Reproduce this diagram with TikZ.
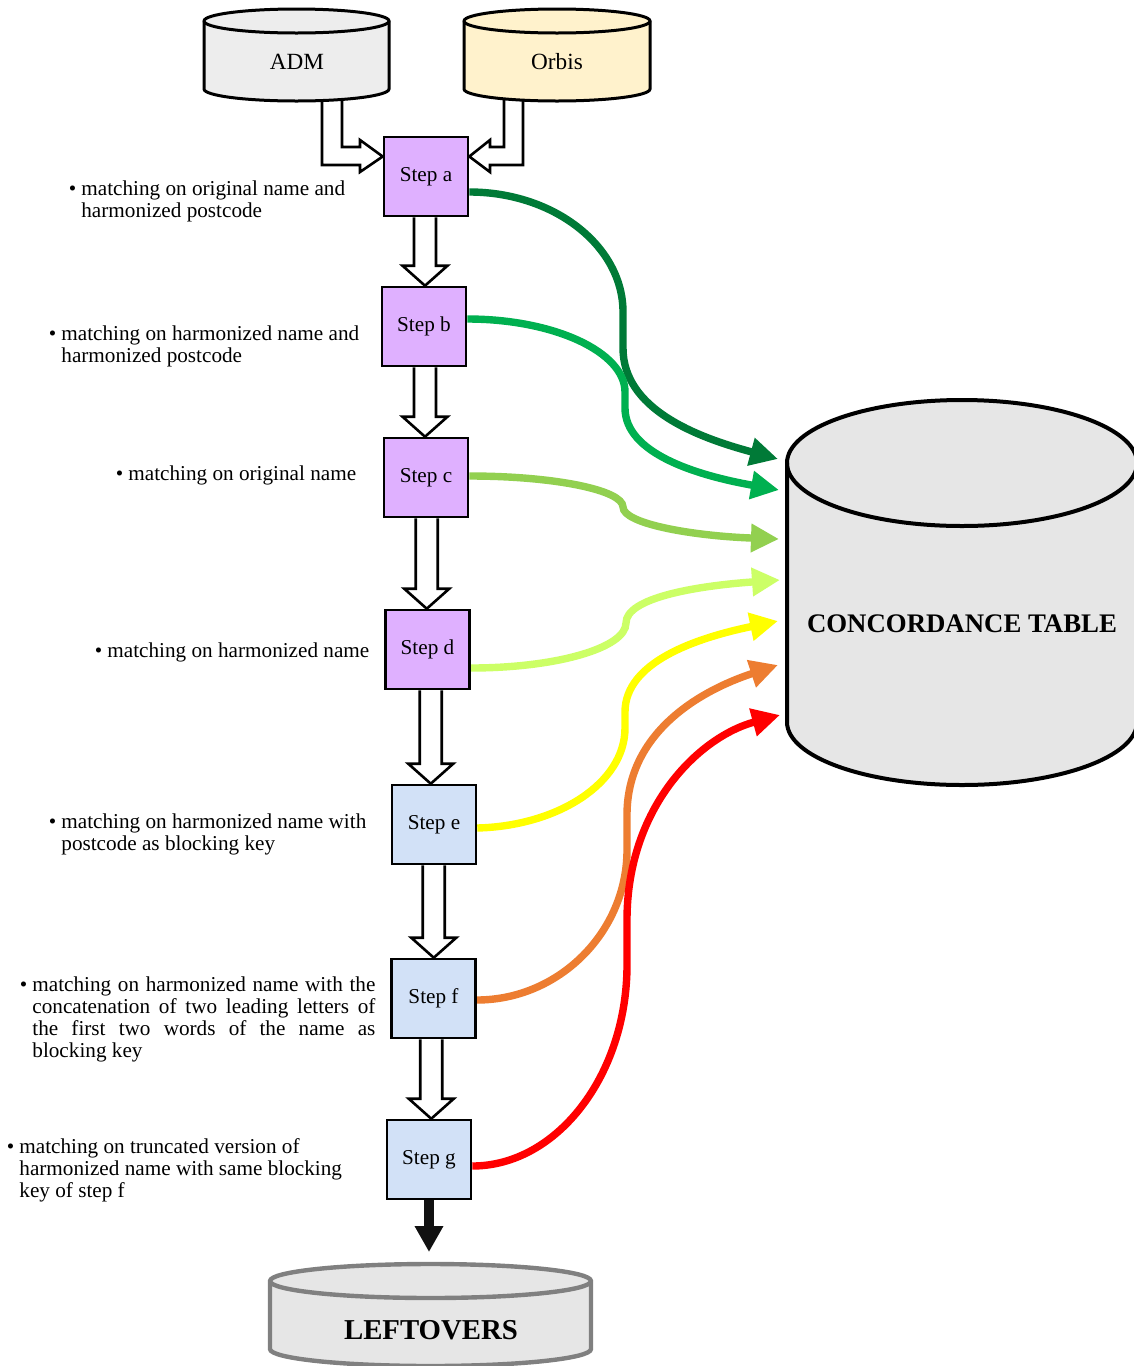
\documentclass[tikz,border=0pt]{standalone}
\usepackage{fontspec}
\setmainfont{Liberation Serif}
\usetikzlibrary{arrows.meta,calc,backgrounds}
\definecolor{stepP}{HTML}{DFB0FF}
\definecolor{stepB}{HTML}{D2E1F7}
\definecolor{admfill}{HTML}{EDEDED}
\definecolor{orbfill}{HTML}{FFF2CC}
\definecolor{cylfill}{HTML}{E6E6E6}
\definecolor{leftline}{HTML}{808080}
\definecolor{cA}{HTML}{007A37}
\definecolor{cB}{HTML}{00B050}
\definecolor{cC}{HTML}{92D050}
\definecolor{cD}{HTML}{CCFF66}
\definecolor{cE}{HTML}{FFFF00}
\definecolor{cF}{HTML}{ED7D31}
\definecolor{cG}{HTML}{FF0000}
\newcommand{\bul}{\llap{\textbullet\hspace{2.5pt}}}
\newcommand{\hollowdown}[2]{%
  \draw[hollow] let \p1=(#1.south), \p2=(#2.north), \p3=($(#1.south)!0.5!(#2.north)$) in
   (\x3-5.5pt,\y1) -- (\x3-5.5pt,\y2+10pt) -- (\x3-11.25pt,\y2+10pt) -- (\x3,\y2)
   -- (\x3+11.25pt,\y2+10pt) -- (\x3+5.5pt,\y2+10pt) -- (\x3+5.5pt,\y1);}
\begin{document}
\begin{tikzpicture}[x=0.5pt,y=-0.5pt,
  stepbox/.style={draw, line width=1.3pt, minimum width=42pt, minimum height=39.5pt, inner sep=0pt,
    font=\fontsize{10.6pt}{12pt}\selectfont},
  purplebox/.style={stepbox, fill=stepP},
  bluebox/.style={stepbox, fill=stepB},
  hollow/.style={draw=black, fill=white, line width=1.3pt, line join=miter},
  flow/.style={line width=3.7pt, -{Triangle[length=14pt,width=13.5pt]}},
  cyl/.style={line width=1.5pt, draw=black},
  desc/.style={font=\fontsize{10.6pt}{11pt}\selectfont, inner sep=0pt, anchor=base west},
  cyltext/.style={font=\fontsize{11.6pt}{13pt}\selectfont, inner sep=0pt},
  bigtext/.style={font=\fontsize{13.4pt}{15pt}\selectfont\bfseries, inner sep=0pt}
]
\useasboundingbox (0,0) rectangle (1134,1366);
\clip (0,0) rectangle (1134,1366);

% step boxes
\node[purplebox] (sa) at (426,176.5) {Step a};
\node[purplebox] (sb) at (424,326.5) {Step b};
\node[purplebox] (sc) at (426,477.5) {Step c};
\node[purplebox] (sd) at (427.5,649.5) {Step d};
\node[bluebox] (se) at (434,824.5) {Step e};
\node[bluebox] (sf) at (433.5,998.5) {Step f};
\node[bluebox] (sg) at (429,1159.5) {Step g};

% arrow tips at the concordance table
\coordinate (ct1) at (778,459);
\coordinate (ct2) at (779,490);
\coordinate (ct3) at (779,539);
\coordinate (ct4) at (780,580);
\coordinate (ct5) at (778,621);
\coordinate (ct6) at (778,665);
\coordinate (ct7) at (780,715);
\coordinate (lt) at (430,1252);

\begin{pgfonlayer}{background}
  \fill[white] (0,0) rectangle (1134,1366);
  % input arrows
  \draw[hollow] (322,94) -- (322,165) -- (360,165) -- (360,172) -- ($(sa.west)+(0,-20)$)
     -- (360,140) -- (360,147) -- (342,147) -- (342,94);
  \draw[hollow] (523,94) -- (523,165) -- (490,165) -- (490,172) -- ($(sa.east)+(0,-20)$)
     -- (490,140) -- (490,147) -- (504,147) -- (504,94);
  % step arrows
  \hollowdown{sa}{sb}
  \hollowdown{sb}{sc}
  \hollowdown{sc}{sd}
  \hollowdown{sd}{se}
  \hollowdown{se}{sf}
  \hollowdown{sf}{sg}
  % flows to the concordance table
  \draw[flow, cA] ($(sa.east)+(0,15.5)$) .. controls (554,192) and (623,246) .. (623,312)
     -- (623,348) .. controls (623,409) and (696,437) .. (ct1);
  \draw[flow, cB] ($(sb.east)+(0,-7.5)$) .. controls (554,319) and (625,352) .. (625,392)
     -- (625,408) .. controls (625,453) and (695,475) .. (ct2);
  \draw[flow, cC] ($(sc.east)+(0,-1.5)$) .. controls (554,476) and (623,490) .. (623,507)
     .. controls (623,524) and (694,536) .. (ct3);
  \draw[flow, cD] ($(sd.east)+(0,18.5)$) .. controls (556,668) and (626,648) .. (626,623)
     .. controls (626,598) and (695,586) .. (ct4);
  \draw[flow, cE] ($(se.east)+(0,3.5)$) .. controls (558,826) and (625,783) .. (625,728)
     -- (625,712) .. controls (625,662) and (696,638) .. (ct5);
  \draw[flow, cF] ($(sf.east)+(0,1.5)$) .. controls (559,1000) and (627,932) .. (627,850)
     -- (627,815) .. controls (627,733) and (699,691) .. (ct6);
  \draw[flow, cG] ($(sg.east)+(0,6.5)$) .. controls (557,1166) and (627,1075) .. (627,965)
     -- (627,920) .. controls (627,807) and (699,737) .. (ct7);
  % to leftovers
  \draw[line width=5pt, draw={rgb,255:red,17;green,17;blue,17}, -{Triangle[length=13pt,width=13.5pt]}]
     (sg.south) -- (sg.south |- lt);
\end{pgfonlayer}

% ADM cylinder
\filldraw[cyl, fill=admfill] (204,21) -- (204,89) arc[start angle=180,end angle=360,x radius=46.25pt,y radius=6pt]
   -- (389,21) arc[start angle=0,end angle=180,x radius=46.25pt,y radius=6pt] -- cycle;
\draw[cyl] (204,21) arc[start angle=180,end angle=360,x radius=46.25pt,y radius=6pt];
\node[cyltext] (adm) at (297,62) {ADM};

% Orbis cylinder
\filldraw[cyl, fill=orbfill] (464,21) -- (464,89) arc[start angle=180,end angle=360,x radius=46.5pt,y radius=6pt]
   -- (650,21) arc[start angle=0,end angle=180,x radius=46.5pt,y radius=6pt] -- cycle;
\draw[cyl] (464,21) arc[start angle=180,end angle=360,x radius=46.5pt,y radius=6pt];
\node[cyltext] (orbis) at (557,62) {Orbis};

% Concordance table cylinder
\filldraw[line width=2pt, draw=black, fill=cylfill] (787,463) -- (787,722) arc[start angle=180,end angle=360,x radius=87.5pt,y radius=31.5pt]
   -- (1137,463) arc[start angle=0,end angle=180,x radius=87.5pt,y radius=31.5pt] -- cycle;
\draw[line width=2pt, draw=black] (787,463) arc[start angle=180,end angle=360,x radius=87.5pt,y radius=31.5pt];
\node[bigtext] (ct) at (962,624) {CONCORDANCE TABLE};

% Leftovers cylinder
\filldraw[line width=2.2pt, draw=leftline, fill=cylfill] (270,1281) -- (270,1349) arc[start angle=180,end angle=360,x radius=80.25pt,y radius=8.5pt]
   -- (591,1281) arc[start angle=0,end angle=180,x radius=80.25pt,y radius=8.5pt] -- cycle;
\draw[line width=2.2pt, draw=leftline] (270,1281) arc[start angle=180,end angle=360,x radius=80.25pt,y radius=8.5pt];
\node[bigtext, font=\fontsize{14.4pt}{16pt}\selectfont\bfseries] (lo) at (431,1330) {LEFTOVERS};

% descriptions
\node[desc] (ta) at (81,195) {\bul\parbox[t]{200pt}{\raggedright matching on original name and\\harmonized postcode}};
\node[desc] (tb) at (61,340) {\bul\parbox[t]{200pt}{\raggedright matching on harmonized name and\\harmonized postcode}};
\node[desc] (tc) at (128,480) {\bul matching on original name};
\node[desc] (td) at (107,657) {\bul matching on harmonized name};
\node[desc] (te) at (61,828) {\bul\parbox[t]{200pt}{\raggedright matching on harmonized name with\\postcode as blocking key}};
\node[desc] (tf) at (32,991) {\bul\parbox[t]{171.5pt}{\makebox[171.5pt][s]{matching on harmonized name with the}\\\makebox[171.5pt][s]{concatenation of two leading letters of}\\\makebox[171.5pt][s]{the first two words of the name as}\\blocking key}};
\node[desc] (tg) at (19,1153) {\bul\parbox[t]{200pt}{\raggedright matching on truncated version of\\harmonized name with same blocking\\key of step f}};
\end{tikzpicture}
\end{document}
